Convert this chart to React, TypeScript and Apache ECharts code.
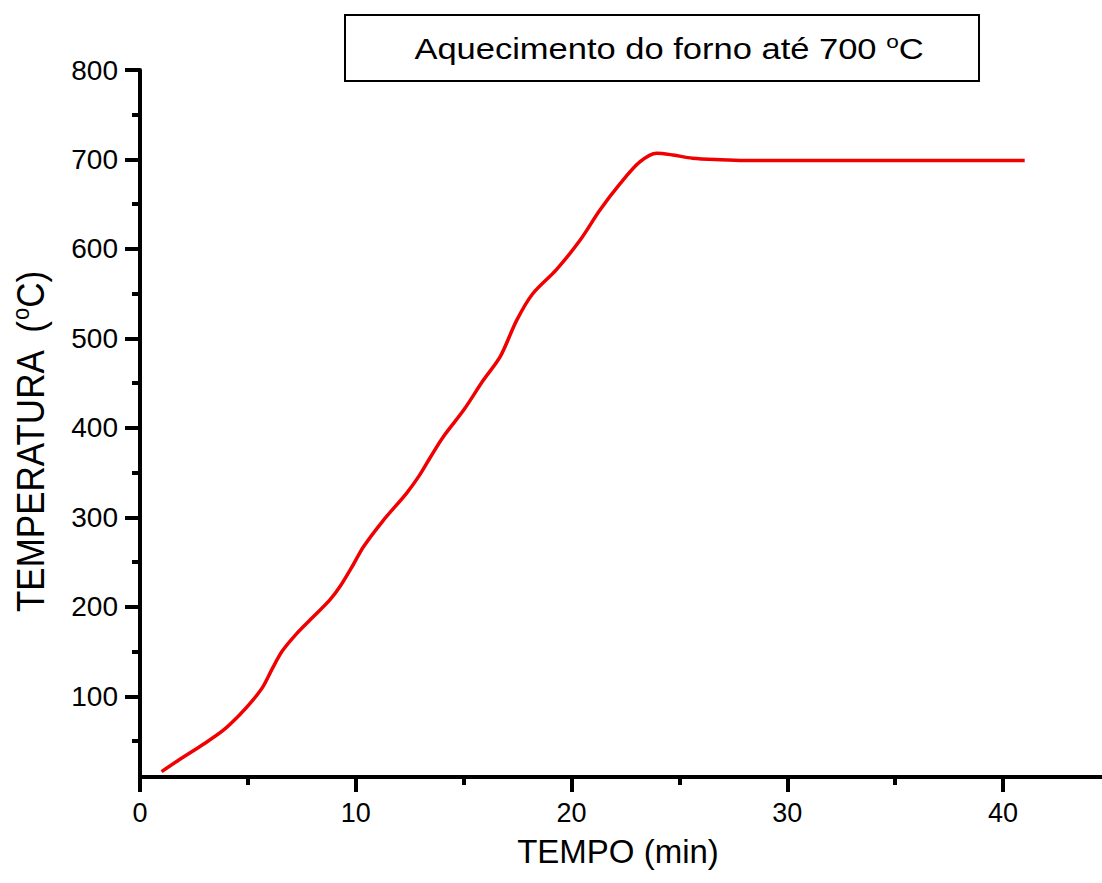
import React, { useEffect, useRef } from "react";
import * as echarts from "echarts";

const TIME = [
  1.0, 1.8, 2.9, 3.85, 4.6, 5.2, 5.7, 6.15, 6.6, 7.25, 7.9, 8.8, 9.3, 9.9,
  10.35, 11.25, 12.35, 12.95, 13.45, 14.05, 15.0, 15.9, 16.7, 17.45, 18.2,
  19.3, 20.4, 21.3, 22.25, 23.15, 23.95, 24.7, 25.6, 26.9, 28.0, 41.0,
];
const TEMP = [
  16, 29, 46, 62, 79, 95, 111, 132, 151, 170, 186, 208, 224, 248,
  267, 296, 327, 347, 367, 390, 420, 453, 480, 520, 550,
  577, 610, 643, 673, 697, 707, 705, 701.5, 699.8, 699, 699,
];

const X_MAJOR = [0, 10, 20, 30, 40];
const X_MINOR = [5, 15, 25, 35];
const Y_MAJOR = [100, 200, 300, 400, 500, 600, 700, 800];
const Y_MINOR = [50, 150, 250, 350, 450, 550, 650, 750];

const TITLE = "Aquecimento do forno até 700 ";
const X_NAME = "TEMPO (min)";
const Y_NAME = "TEMPERATURA  (";

const FONT = "'Liberation Sans', Arial, Helvetica, sans-serif";

export default function App() {
  const ref = useRef<HTMLDivElement>(null);

  useEffect(() => {
    if (!ref.current) return;
    const chart = echarts.init(ref.current, undefined, { renderer: "svg" });
    const option: any = {
      animation: false,
      backgroundColor: "#fff",
      grid: {
        left: 140,
        top: 70,
        width: 971,
        height: 707,
        containLabel: false,
        outerBoundsMode: "none",
      },
      xAxis: [
        {
          type: "value",
          min: 0,
          max: 45,
          position: "bottom",
          axisLine: { show: true, onZero: false, lineStyle: { color: "#000", width: 4 } },
          axisTick: {
            show: true,
            length: 15,
            customValues: X_MAJOR,
            lineStyle: { color: "#000", width: 4 },
          },
          axisLabel: {
            customValues: X_MAJOR,
            fontSize: 27,
            color: "#000",
            fontFamily: FONT,
            margin: 22,
          },
          splitLine: { show: false },
          name: X_NAME,
          nameLocation: "middle",
          nameGap: 58,
          nameTextStyle: {
            fontSize: 33,
            color: "#000",
            fontFamily: FONT,
            padding: [0, 15, 0, 0],
          },
        },
        {
          type: "value",
          min: 0,
          max: 45,
          position: "bottom",
          axisLine: { show: false, onZero: false },
          axisTick: {
            show: true,
            length: 8,
            customValues: X_MINOR,
            lineStyle: { color: "#000", width: 4 },
          },
          axisLabel: { show: false },
          splitLine: { show: false },
        },
      ],
      yAxis: [
        {
          type: "value",
          min: 10,
          max: 800,
          position: "left",
          axisLine: { show: true, onZero: false, lineStyle: { color: "#000", width: 4 } },
          axisTick: {
            show: true,
            length: 15,
            customValues: Y_MAJOR,
            lineStyle: { color: "#000", width: 4 },
          },
          axisLabel: {
            customValues: Y_MAJOR,
            fontSize: 28,
            color: "#000",
            fontFamily: FONT,
            margin: 22,
          },
          splitLine: { show: false },
        },
        {
          type: "value",
          min: 10,
          max: 800,
          position: "left",
          axisLine: { show: false, onZero: false },
          axisTick: {
            show: true,
            length: 8,
            customValues: Y_MINOR,
            lineStyle: { color: "#000", width: 4 },
          },
          axisLabel: { show: false },
          splitLine: { show: false },
        },
      ],
      series: [
        {
          type: "line",
          xAxisIndex: 0,
          yAxisIndex: 0,
          data: TIME.map((t, i) => [t, TEMP[i]]),
          showSymbol: false,
          symbol: "none",
          smooth: 0.3,
          lineStyle: { color: "#f00000", width: 3.5 },
          itemStyle: { color: "#f00000" },
        },
      ],
      graphic: [
        {
          type: "rect",
          z: 10,
          shape: { x: 345, y: 15, width: 634, height: 66 },
          style: { fill: "#fff", stroke: "#000", lineWidth: 2 },
        },
        {
          type: "text",
          z: 11,
          x: 669,
          y: 49,
          scaleX: 1.19,
          style: {
            text: "{a|" + TITLE + "}{s|o}{a|C}",
            align: "center",
            verticalAlign: "middle",
            rich: {
              a: { fontSize: 29, fontFamily: FONT, fill: "#000", lineHeight: 34 },
              s: { fontSize: 19, fontFamily: FONT, fill: "#000", verticalAlign: "top", lineHeight: 10 },
            },
          },
        },
        {
          type: "text",
          z: 11,
          x: 31,
          y: 442,
          rotation: Math.PI / 2,
          scaleY: 1.1,
          style: {
            text: "{a|" + Y_NAME + "}{s|o}{a|C)}",
            align: "center",
            verticalAlign: "middle",
            rich: {
              a: { fontSize: 35, fontFamily: FONT, fill: "#000", lineHeight: 40 },
              s: { fontSize: 22, fontFamily: FONT, fill: "#000", verticalAlign: "top", lineHeight: 14 },
            },
          },
        },
      ],
    };
    chart.setOption(option);
    return () => chart.dispose();
  }, []);

  return (
    <div
      ref={ref}
      style={{ position: "absolute", left: 0, top: 0, width: 1102, height: 883 }}
    />
  );
}
